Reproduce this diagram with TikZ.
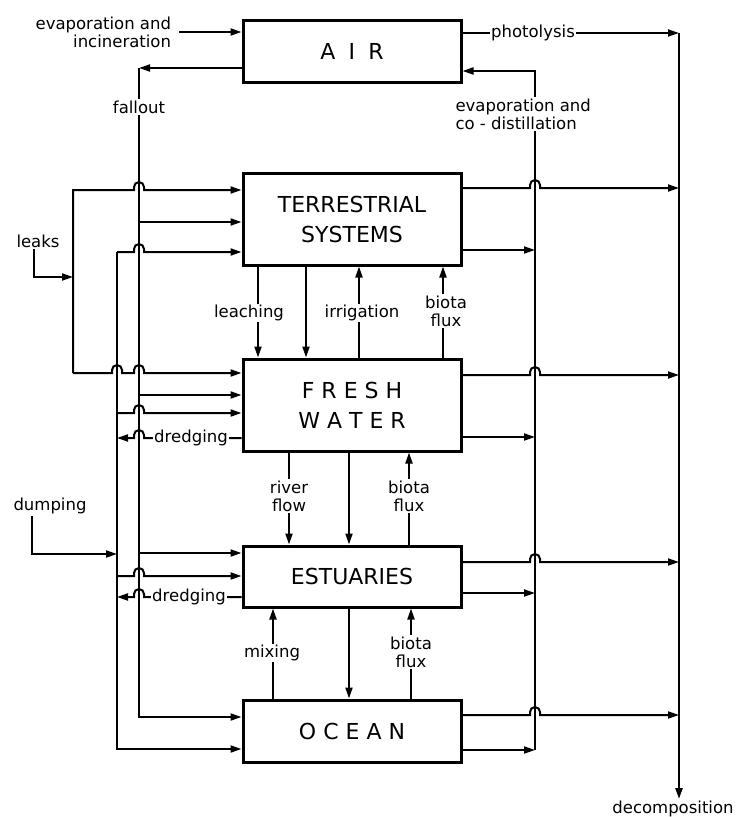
\documentclass[tikz,border=0pt]{standalone}
\usepackage{fontspec}
\setmainfont{DejaVu Sans}
\usetikzlibrary{arrows.meta}
\newcommand\hop[2]{-- ({#1-5},#2) -- ({#1-5},{#2-3}) arc[start angle=180,end angle=360,radius=5] -- ({#1+5},#2)}

\begin{document}
\begin{tikzpicture}[x=1pt,y=-1pt,line width=2pt,line join=miter,>={Triangle[length=11pt,width=7pt]},
  compartment/.style={draw,line width=3pt,minimum width=218pt,align=center,font=\fontsize{22}{30}\selectfont},
  flux/.style={fill=white,inner sep=1.5pt,align=center,font=\fontsize{16.5}{18}\selectfont},
  tag/.style={inner sep=1pt,align=center,font=\fontsize{16.5}{18}\selectfont}]
  \useasboundingbox (0,0) rectangle (744,817);
  \node[compartment,minimum height=62pt] (air) at (352,51) {A\hspace{0.6em}I\hspace{0.6em}R};
  \node[compartment,minimum height=92pt] (terr) at (352,219) {TERRESTRIAL\\SYSTEMS};
  \node[compartment,minimum height=92pt] (fresh) at (352,405) {F R E S H\\W A T E R};
  \node[compartment,minimum height=61pt] (estu) at (352,576.5) {ESTUARIES};
  \node[compartment,minimum height=62pt] (ocean) at (352,731) {O C E A N};
  \coordinate (lk) at (73,0);
  \coordinate (dp) at (117,0);
  \coordinate (fo) at (139,0);
  \coordinate (cd) at (535,0);
  \coordinate (dc) at (679,0);

  \node[tag,anchor=east,align=right] (evin) at (173,32) {evaporation and\\incineration};
  \draw[->] ([xshift=6pt]evin.east) -- (air.west |- evin.east);
  \draw[->] (air.west |- 0,68) -- (fo |- 0,68);
  \draw[->] (fo |- 0,68) -- (fo |- 0,717) -- (ocean.west |- 0,717);
  \node[flux] (fall) at (fo |- 0,107) {fallout};
  \foreach \bx/\yy in {terr/222,fresh/395,estu/553}{
    \draw[->] (fo |- 0,\yy) -- (\bx.west |- 0,\yy);
  }

  \node[tag] (leaks) at (38,241) {leaks};
  \draw[->] ([xshift=19pt]leaks.south west) |- (lk |- 0,277);
  \draw[->] (lk |- 0,373) -- (lk |- 0,190) \hop{139}{190} -- (terr.west |- 0,190);
  \draw[->] (lk |- 0,373) \hop{117}{373} \hop{139}{373} -- (fresh.west |- 0,373);

  \node[tag] (dumping) at (50,506) {dumping};
  \draw[->] ([xshift=20pt]dumping.south west) |- (dp |- 0,554);
  \draw[->] (dp |- 0,252) \hop{139}{252} -- (terr.west |- 0,252);
  \draw[->] (dp |- 0,252) -- (dp |- 0,749) -- (ocean.west |- 0,749);
  \draw[->] (dp |- 0,413) \hop{139}{413} -- (fresh.west |- 0,413);
  \draw[->] (dp |- 0,576) \hop{139}{576} -- (estu.west |- 0,576);
  \draw[<-] (dp |- 0,438) \hop{139}{438} -- (fresh.west |- 0,438);
  \node[flux] (dredgefw) at (191,438) {dredging};
  \draw[<-] (dp |- 0,597) \hop{139}{597} -- (estu.west |- 0,597);
  \node[flux] (dredgees) at (189,597) {dredging};

  \draw[->] (air.east |- 0,33) -- (dc |- 0,33);
  \node[flux] (photo) at (533,33) {photolysis};
  \node[tag] (decomp) at (673,809) {decomposition};
  \draw[->,line width=2.4pt] (dc |- 0,33) -- (dc |- decomp.north);
  \draw[->] (cd |- 0,750) -- (cd |- 0,71) -- (air.east |- 0,71);
  \node[flux,anchor=west,align=left] (codist) at (453,114) {evaporation and\\co - distillation};
  \foreach \bx/\ya/\yb in {terr/188/250,fresh/375/437,estu/562/593,ocean/715/750}{
    \draw[->] (\bx.east |- 0,\ya) \hop{535}{\ya} -- (dc |- 0,\ya);
    \draw[->] (\bx.east |- 0,\yb) -- (cd |- 0,\yb);
  }

  \draw[->] (terr.south -| 258,0) -- (fresh.north -| 258,0);
  \draw[->] (terr.south -| 306,0) -- (fresh.north -| 306,0);
  \draw[<-] (terr.south -| 359,0) -- (fresh.north -| 359,0);
  \draw[<-] (terr.south -| 443,0) -- (fresh.north -| 443,0);
  \node[flux] (leach) at (249,313) {leaching};
  \node[flux] (irrig) at (362,313) {irrigation};
  \node[flux] (biota1) at (446,311) {biota\\flux};

  \draw[->] (fresh.south -| 289,0) -- (estu.north -| 289,0);
  \draw[->] (fresh.south -| 349,0) -- (estu.north -| 349,0);
  \draw[<-] (fresh.south -| 409,0) -- (estu.north -| 409,0);
  \node[flux] (river) at (289,496) {river\\flow};
  \node[flux] (biota2) at (409,496) {biota\\flux};

  \draw[<-] (estu.south -| 273,0) -- (ocean.north -| 273,0);
  \draw[->] (estu.south -| 349,0) -- (ocean.north -| 349,0);
  \draw[<-] (estu.south -| 411,0) -- (ocean.north -| 411,0);
  \node[flux] (mixing) at (272,653) {mixing};
  \node[flux] (biota3) at (411,652) {biota\\flux};
\end{tikzpicture}
\end{document}
